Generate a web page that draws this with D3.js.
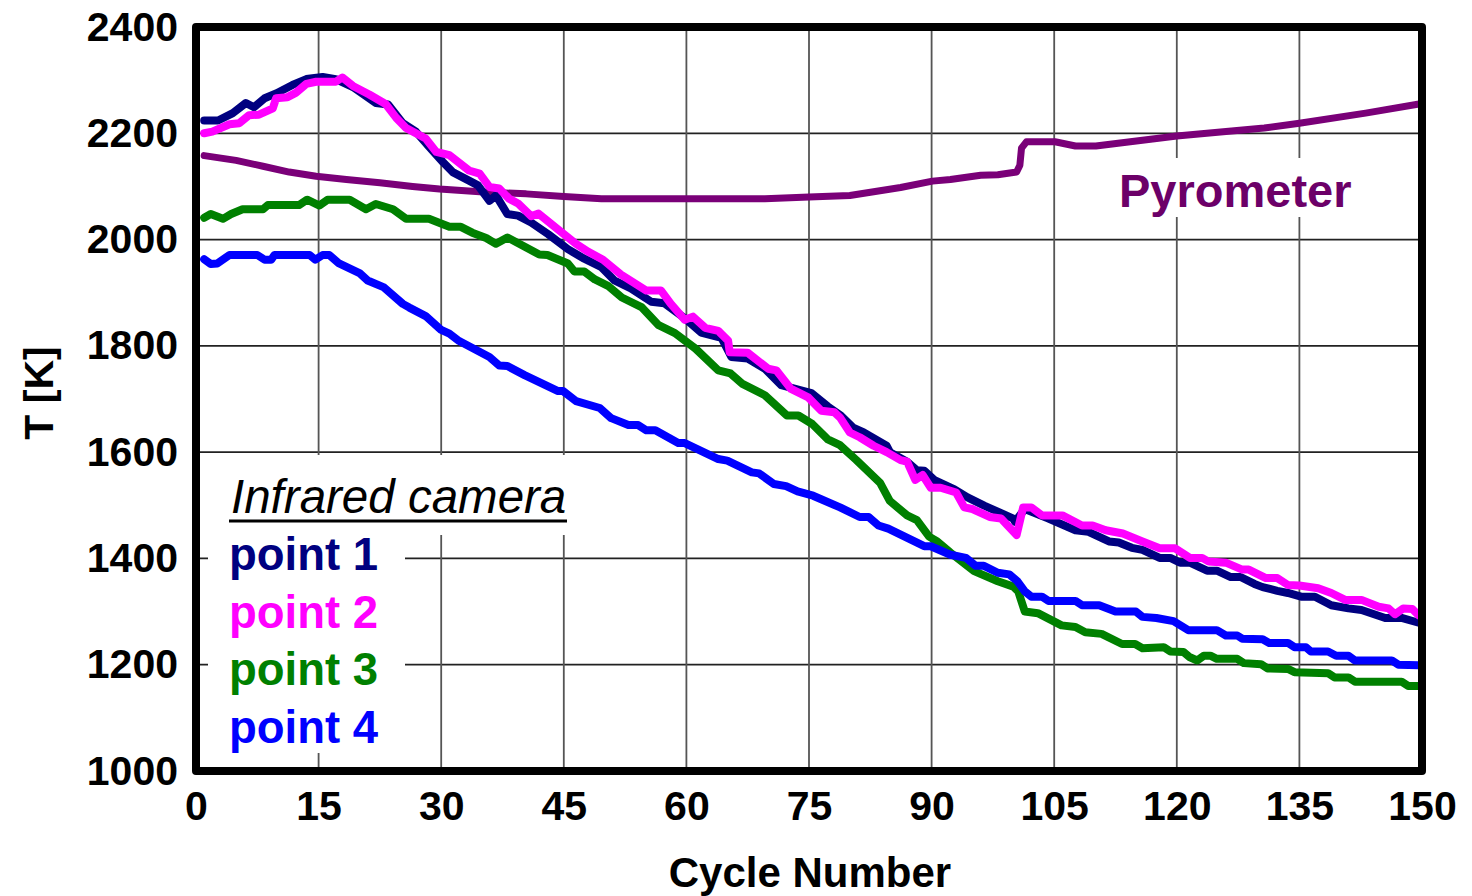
<!DOCTYPE html>
<html>
<head>
<meta charset="utf-8">
<script src="https://cdn.jsdelivr.net/npm/d3@7"></script>
<style>
  html, body { margin: 0; padding: 0; background: #fff; }
  svg { display: block; }
  text { font-family: "Liberation Sans", Arial, Helvetica, sans-serif; }
</style>
</head>
<body>
<svg id="chart" width="1472" height="896"></svg>
<script>
// Tick values
const xTicks = [0, 15, 30, 45, 60, 75, 90, 105, 120, 135, 150];
const yTicks = [1000, 1200, 1400, 1600, 1800, 2000, 2200, 2400];

// Infrared camera, point 1
const p1Cycle = [1, 2.7, 4.5, 6.1, 7.1, 8.4, 9.8, 11.8, 13.5, 15.5, 17.1, 19.2, 22, 23.5, 25.3, 26.9, 28.5, 30.2, 31.4, 33.4, 34.5, 35.9, 36.7, 38.1, 39.4, 41.0, 43.1, 45.5, 47.5, 49.6, 51.2, 53.2, 55.7, 57.3, 59.8, 61.8, 64.3, 65.5, 67.5, 69.6, 71.6, 75.3, 77.3, 78.8, 80.4, 81.7, 84.5, 84.9, 87.0, 88.2, 89.1, 90.3, 92.8, 94.4, 96.5, 100, 100.2, 101.4, 104.3, 107.6, 109.2, 111.7, 112.9, 114.5, 115.8, 117.9, 119.2, 120.4, 121.6, 123.7, 124.9, 126.6, 127.8, 129.5, 130.5, 132.3, 133.6, 135.2, 136.9, 138.9, 141.0, 142.6, 145.5, 147.5, 149.6];
const p1Temp = [2224, 2224, 2238, 2257, 2249, 2266, 2275, 2291, 2302, 2306, 2302, 2287, 2257, 2254, 2219, 2203, 2175, 2146, 2127, 2111, 2102, 2073, 2083, 2048, 2045, 2032, 2010, 1982, 1964, 1948, 1923, 1908, 1883, 1880, 1852, 1825, 1815, 1779, 1776, 1757, 1726, 1711, 1686, 1670, 1646, 1637, 1612, 1600, 1582, 1566, 1565, 1548, 1530, 1515, 1499, 1475, 1469, 1493, 1475, 1453, 1450, 1432, 1430, 1420, 1416, 1401, 1401, 1392, 1392, 1377, 1377, 1365, 1365, 1352, 1346, 1339, 1335, 1328, 1328, 1312, 1306, 1303, 1288, 1288, 1279];

// Infrared camera, point 2
const p2Cycle = [1, 2, 4.1, 5.3, 6.5, 7.7, 9.4, 9.8, 11.2, 12.2, 13.5, 14.7, 17.1, 17.9, 19.2, 21.2, 23.2, 24.5, 25.7, 28.1, 29.4, 31, 33.4, 34.7, 35.9, 37.1, 38.3, 39.4, 41.0, 41.9, 44.7, 46.5, 48.0, 49.8, 52.0, 55.1, 56.9, 58.1, 59.8, 60.8, 62.3, 63.9, 65.1, 65.3, 67.5, 70.0, 71.0, 72.8, 74.9, 76.5, 78.1, 78.8, 80.0, 81.2, 82.9, 84.5, 86.2, 87.0, 88.0, 88.9, 89.9, 91.1, 93.0, 94.0, 95.0, 97.1, 98.5, 99.3, 100.4, 101.2, 102.2, 103.5, 106, 108.4, 109.7, 111.3, 113.4, 115.8, 117.9, 119.8, 121.6, 123.1, 123.9, 126.0, 128.0, 128.8, 130.9, 132.3, 133.6, 135.0, 137.3, 138.9, 140.6, 142.6, 144.7, 145.9, 146.7, 147.7, 148.8, 149.6];
const p2Temp = [2200, 2203, 2217, 2219, 2234, 2235, 2247, 2266, 2268, 2276, 2293, 2297, 2297, 2305, 2289, 2273, 2255, 2229, 2210, 2190, 2165, 2159, 2130, 2124, 2099, 2096, 2077, 2068, 2044, 2049, 2014, 1992, 1977, 1962, 1934, 1904, 1904, 1879, 1849, 1855, 1834, 1828, 1810, 1788, 1787, 1757, 1754, 1719, 1703, 1678, 1675, 1665, 1637, 1628, 1612, 1600, 1585, 1582, 1548, 1557, 1533, 1533, 1524, 1496, 1493, 1478, 1475, 1462, 1444, 1496, 1496, 1481, 1481, 1462, 1462, 1453, 1447, 1432, 1419, 1419, 1401, 1401, 1394, 1392, 1379, 1379, 1363, 1363, 1350, 1349, 1344, 1335, 1322, 1322, 1309, 1306, 1295, 1306, 1305, 1293];

// Infrared camera, point 3
const p3Cycle = [1, 1.8, 3.3, 4.3, 5.7, 8.2, 8.8, 12.6, 13.6, 15.1, 16.1, 18.8, 20.8, 22.0, 24.1, 25.7, 28.5, 31.0, 32.4, 33.8, 35.5, 36.7, 38.1, 40.4, 42.0, 43.0, 45.5, 46.3, 47.5, 48.8, 50.4, 52.1, 54.5, 56.6, 58.6, 61.1, 63.9, 65.4, 66.8, 69.6, 72.3, 73.7, 75.4, 77.3, 78.8, 80.8, 83.7, 84.9, 87.0, 88.2, 89.7, 90.7, 92.3, 95.2, 98.1, 100.0, 100.6, 101.4, 103.0, 105.9, 107.6, 108.8, 110.8, 113.3, 114.9, 115.8, 118.4, 119.2, 120.8, 121.6, 122.5, 123.3, 124.1, 124.9, 127.4, 128.2, 130.3, 131.1, 133.6, 134.4, 138.5, 139.3, 141.0, 141.8, 147.5, 148.3, 149.6];
const p3Temp = [2041, 2048, 2039, 2048, 2057, 2057, 2065, 2065, 2075, 2064, 2075, 2075, 2057, 2067, 2057, 2039, 2039, 2024, 2024, 2013, 2003, 1992, 2004, 1985, 1972, 1971, 1955, 1940, 1940, 1925, 1913, 1891, 1873, 1839, 1824, 1795, 1754, 1748, 1729, 1707, 1669, 1669, 1653, 1624, 1613, 1585, 1542, 1508, 1481, 1472, 1441, 1432, 1411, 1376, 1357, 1347, 1338, 1300, 1297, 1274, 1271, 1261, 1258, 1239, 1239, 1231, 1233, 1225, 1224, 1214, 1208, 1217, 1217, 1211, 1211, 1203, 1201, 1193, 1192, 1186, 1184, 1176, 1176, 1168, 1168, 1160, 1160];

// Infrared camera, point 4
const p4Cycle = [1, 1.8, 2.6, 4.1, 7.5, 8.4, 9.2, 9.6, 13.9, 14.6, 15.5, 16.3, 17.5, 20.0, 21.0, 23.0, 25.3, 26.1, 28.1, 30.0, 31.0, 32.2, 35.9, 37.1, 38.1, 40.2, 44.3, 44.9, 46.5, 49.4, 50.8, 52.9, 54.1, 55.1, 56.2, 59.0, 59.8, 63.9, 65.0, 68.0, 68.9, 70.7, 72.2, 73.6, 75.5, 78.8, 81.2, 82.3, 83.5, 84.7, 89.1, 89.9, 92.3, 94.2, 95.4, 96.4, 98.1, 99.5, 100.5, 101.4, 102.2, 103.5, 104.3, 107.6, 108.4, 110.5, 112.5, 115.0, 115.8, 117.5, 119.6, 121.4, 124.9, 126.0, 127.4, 128.0, 130.5, 131.3, 133.6, 134.4, 135.8, 136.4, 138.5, 139.5, 141.0, 141.8, 146.3, 147.1, 149.6];
const p4Temp = [1963, 1954, 1955, 1971, 1971, 1962, 1962, 1971, 1971, 1962, 1971, 1971, 1955, 1937, 1923, 1910, 1879, 1872, 1856, 1830, 1823, 1809, 1779, 1763, 1762, 1745, 1715, 1715, 1696, 1683, 1664, 1651, 1651, 1641, 1641, 1617, 1617, 1587, 1584, 1562, 1560, 1540, 1536, 1526, 1518, 1496, 1478, 1478, 1462, 1456, 1423, 1423, 1407, 1401, 1386, 1386, 1373, 1370, 1357, 1338, 1328, 1328, 1320, 1320, 1312, 1312, 1300, 1300, 1290, 1288, 1282, 1265, 1265, 1255, 1255, 1249, 1248, 1241, 1241, 1233, 1233, 1225, 1225, 1217, 1217, 1208, 1208, 1200, 1199];

// Pyrometer
const pyroCycle = [1, 4.9, 8.2, 11.4, 14.7, 18.4, 22.5, 26.5, 29.8, 34.7, 40.4, 45, 49.6, 60, 69.6, 75, 80, 86.2, 90.1, 92.3, 96.0, 98.1, 100.4, 100.8, 101.0, 101.6, 105.1, 107.6, 110.1, 120, 130.7, 135, 143.1, 150];
const pyroTemp = [2158, 2149, 2138, 2127, 2119, 2113, 2107, 2100, 2095, 2090, 2086, 2081, 2077, 2077, 2077, 2080, 2083, 2098, 2110, 2113, 2121, 2122, 2127, 2140, 2172, 2184, 2184, 2176, 2176, 2195, 2210, 2219, 2238, 2256];

const legendTitle = "Infrared camera";
const legendNames = ["point 1", "point 2", "point 3", "point 4"];
const seriesColors = ["#000080", "#ff00ff", "#008000", "#0000ff"];
const pyroColor = "#7a0078";
const pyroLabelColor = "#6c0068";

const svg = d3.select("#chart");
const plotLeft = 196, plotRight = 1422, plotTop = 27, plotBottom = 771;

const x = d3.scaleLinear().domain([0, 150]).range([plotLeft, plotRight]);
const y = d3.scaleLinear().domain([1000, 2400]).range([plotBottom, plotTop]);

// Grid
const grid = svg.append("g");
grid.selectAll("line.h").data(yTicks.slice(1, -1)).join("line")
  .attr("class", "h")
  .attr("x1", plotLeft).attr("x2", plotRight)
  .attr("y1", d => y(d)).attr("y2", d => y(d))
  .attr("stroke", "#222").attr("stroke-width", 1.8);
grid.selectAll("line.v").data(xTicks.slice(1, -1)).join("line")
  .attr("class", "v")
  .attr("y1", plotTop).attr("y2", plotBottom)
  .attr("x1", d => x(d)).attr("x2", d => x(d))
  .attr("stroke", "#555").attr("stroke-width", 1.8);

// Series
const series = [
  { c: pyroCycle, t: pyroTemp, color: pyroColor, w: 7 },
  { c: p3Cycle, t: p3Temp, color: seriesColors[2], w: 8 },
  { c: p4Cycle, t: p4Temp, color: seriesColors[3], w: 8 },
  { c: p1Cycle, t: p1Temp, color: seriesColors[0], w: 8 },
  { c: p2Cycle, t: p2Temp, color: seriesColors[1], w: 8 }
];
const line = d3.line().x(d => x(d[0])).y(d => y(d[1]));
svg.append("g").selectAll("path").data(series).join("path")
  .attr("d", s => line(s.c.map((c, i) => [c, s.t[i]])))
  .attr("fill", "none")
  .attr("stroke", s => s.color)
  .attr("stroke-width", s => s.w)
  .attr("stroke-linejoin", "round")
  .attr("stroke-linecap", "round");

// Label backgrounds
svg.append("rect").attr("x", 208).attr("y", 455).attr("width", 364).attr("height", 80).attr("fill", "#fff");
svg.append("rect").attr("x", 208).attr("y", 535).attr("width", 197).attr("height", 218).attr("fill", "#fff");
svg.append("rect").attr("x", 1114).attr("y", 158).attr("width", 246).attr("height", 59).attr("fill", "#fff");

// Frame
svg.append("rect")
  .attr("x", plotLeft).attr("y", plotTop).attr("width", plotRight - plotLeft).attr("height", plotBottom - plotTop)
  .attr("fill", "none").attr("stroke", "#000").attr("stroke-width", 8)
  .attr("stroke-linejoin", "round");

// Axes
const yAxis = svg.append("g").attr("transform", `translate(${plotLeft - 4},0)`)
  .call(d3.axisLeft(y).tickValues(yTicks).tickSize(0).tickPadding(14).tickFormat(d3.format("d")));
const xAxis = svg.append("g").attr("transform", `translate(0,${plotBottom + 4})`)
  .call(d3.axisBottom(x).tickValues(xTicks).tickSize(0).tickPadding(14).tickFormat(d3.format("d")));
[yAxis, xAxis].forEach(g => {
  g.select(".domain").remove();
  g.selectAll("text")
    .attr("fill", "#000")
    .style("font-family", '"Liberation Sans", Arial, sans-serif')
    .style("font-size", "41px")
    .style("font-weight", "bold");
});
xAxis.selectAll("text").attr("dy", "0.76em");

// Axis titles
svg.append("text")
  .attr("x", 810).attr("y", 887)
  .attr("text-anchor", "middle")
  .style("font-size", "42px").style("font-weight", "bold")
  .text("Cycle Number");
svg.append("text")
  .attr("transform", "translate(53,393) rotate(-90)")
  .attr("text-anchor", "middle")
  .style("font-size", "41px").style("font-weight", "bold")
  .text("T [K]");

// Legend
svg.append("text")
  .attr("x", 231).attr("y", 513)
  .style("font-size", "47.5px").style("font-style", "italic")
  .text(legendTitle);
svg.append("line")
  .attr("x1", 229).attr("x2", 567).attr("y1", 521).attr("y2", 521)
  .attr("stroke", "#000").attr("stroke-width", 3);
svg.append("g").selectAll("text").data(legendNames).join("text")
  .attr("x", 229)
  .attr("y", (d, i) => 570 + i * 57.7)
  .attr("fill", (d, i) => seriesColors[i])
  .style("font-size", "45.5px").style("font-weight", "bold")
  .text(d => d);

// Pyrometer label
svg.append("text")
  .attr("x", 1119).attr("y", 207)
  .attr("fill", pyroLabelColor)
  .style("font-size", "47px").style("font-weight", "bold")
  .text("Pyrometer");
</script>
</body>
</html>
